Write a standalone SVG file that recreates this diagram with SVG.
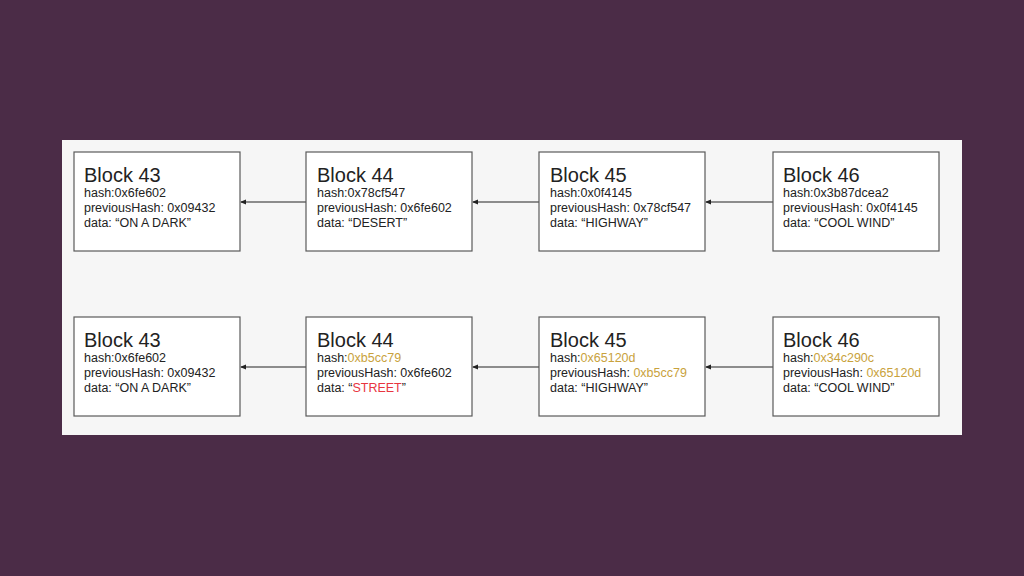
<svg xmlns="http://www.w3.org/2000/svg" width="1024" height="576" viewBox="0 0 1024 576">
<style>
.box{fill:#ffffff;stroke:#5a5a5a;stroke-width:1.2}
.t{font-family:"Liberation Sans",Arial,sans-serif;fill:#222}
.h{font-size:20px}
.s{font-size:12.5px}
.g{fill:#c9a23c}
.r{fill:#e8353f}
.c{stroke:#222;stroke-width:1.2;fill:none;marker-end:url(#ah)}
</style>
<defs>
<marker id="ah" markerWidth="6" markerHeight="6" refX="5" refY="3" orient="auto" markerUnits="userSpaceOnUse">
<path d="M0,0.5 L6,3 L0,5.5 Z" fill="#222"/>
</marker>
</defs>
<rect x="0" y="0" width="1024" height="576" fill="#4b2c47"/>
<rect x="62" y="140" width="900" height="295" fill="#f6f6f6"/>
<g id="connectors">
<line class="c" x1="306" y1="202" x2="241" y2="202"/>
<line class="c" x1="539" y1="202" x2="473" y2="202"/>
<line class="c" x1="773" y1="202" x2="706" y2="202"/>
<line class="c" x1="306" y1="367" x2="241" y2="367"/>
<line class="c" x1="539" y1="367" x2="473" y2="367"/>
<line class="c" x1="773" y1="367" x2="706" y2="367"/>
</g>
<g id="top43">
<rect class="box" x="74" y="152" width="166" height="99"/>
<text class="t h" x="84" y="182">Block 43</text>
<text class="t s" x="84" y="197">hash:0x6fe602</text>
<text class="t s" x="84" y="212">previousHash: 0x09432</text>
<text class="t s" x="84" y="227">data: “ON A DARK”</text>
</g>
<g id="top44">
<rect class="box" x="306" y="152" width="166" height="99"/>
<text class="t h" x="317" y="182">Block 44</text>
<text class="t s" x="317" y="197">hash:0x78cf547</text>
<text class="t s" x="317" y="212">previousHash: 0x6fe602</text>
<text class="t s" x="317" y="227">data: “DESERT”</text>
</g>
<g id="top45">
<rect class="box" x="539" y="152" width="166" height="99"/>
<text class="t h" x="550" y="182">Block 45</text>
<text class="t s" x="550" y="197">hash:0x0f4145</text>
<text class="t s" x="550" y="212">previousHash: 0x78cf547</text>
<text class="t s" x="550" y="227">data: “HIGHWAY”</text>
</g>
<g id="top46">
<rect class="box" x="773" y="152" width="166" height="99"/>
<text class="t h" x="783" y="182">Block 46</text>
<text class="t s" x="783" y="197">hash:0x3b87dcea2</text>
<text class="t s" x="783" y="212">previousHash: 0x0f4145</text>
<text class="t s" x="783" y="227">data: “COOL WIND”</text>
</g>
<g id="bot43">
<rect class="box" x="74" y="317" width="166" height="99"/>
<text class="t h" x="84" y="347">Block 43</text>
<text class="t s" x="84" y="362">hash:0x6fe602</text>
<text class="t s" x="84" y="377">previousHash: 0x09432</text>
<text class="t s" x="84" y="392">data: “ON A DARK”</text>
</g>
<g id="bot44">
<rect class="box" x="306" y="317" width="166" height="99"/>
<text class="t h" x="317" y="347">Block 44</text>
<text class="t s" x="317" y="362">hash:<tspan class="g">0xb5cc79</tspan></text>
<text class="t s" x="317" y="377">previousHash: 0x6fe602</text>
<text class="t s" x="317" y="392">data: “<tspan class="r">STREET</tspan>”</text>
</g>
<g id="bot45">
<rect class="box" x="539" y="317" width="166" height="99"/>
<text class="t h" x="550" y="347">Block 45</text>
<text class="t s" x="550" y="362">hash:<tspan class="g">0x65120d</tspan></text>
<text class="t s" x="550" y="377">previousHash: <tspan class="g">0xb5cc79</tspan></text>
<text class="t s" x="550" y="392">data: “HIGHWAY”</text>
</g>
<g id="bot46">
<rect class="box" x="773" y="317" width="166" height="99"/>
<text class="t h" x="783" y="347">Block 46</text>
<text class="t s" x="783" y="362">hash:<tspan class="g">0x34c290c</tspan></text>
<text class="t s" x="783" y="377">previousHash: <tspan class="g">0x65120d</tspan></text>
<text class="t s" x="783" y="392">data: “COOL WIND”</text>
</g>
</svg>
